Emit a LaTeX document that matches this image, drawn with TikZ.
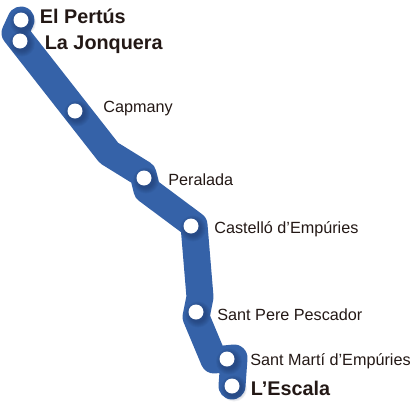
\documentclass[tikz,border=0pt]{standalone}
\usepackage{fontspec}
\setmainfont{Liberation Sans}
\usetikzlibrary{positioning,backgrounds}
\definecolor{lineblue}{HTML}{3562A8}
\definecolor{shadeblue}{HTML}{14264F}
\definecolor{inkdark}{HTML}{231815}

\begin{document}
\begin{tikzpicture}[
  x=1pt, y=-1pt,
  stn/.style={circle, fill=white, minimum size=15pt, inner sep=0pt},
  lbl/.style={inner sep=0pt, text=inkdark, font=\fontsize{16.2}{18}\selectfont},
  endlbl/.style={lbl, font=\fontsize{19.8}{22}\selectfont\bfseries},
  band/.style={draw=lineblue, line width=27pt, line join=round, line cap=round},
  halo/.style={fill=shadeblue, opacity=.07},
]
\useasboundingbox (0,0) rectangle (410,413);
% ---------------- stations ----------------
\node[stn] (pertus) at (21,20) {};
\node[stn] (jonquera) at (20,41) {};
\node[stn] (capmany) at (75,111) {};
\node[stn] (peralada) at (144,178) {};
\node[stn] (castello) at (191,226) {};
\node[stn] (santpere) at (196,312) {};
\node[stn] (santmarti) at (227,359) {};
\node[stn] (escala) at (232,386) {};

% ---------------- bends ----------------
\coordinate (b1) at (15,33);
\coordinate (b2) at (109,153);
\coordinate (b3) at (143,174);
\coordinate (b4) at (147,190);
\coordinate (b5) at (194,225);
\coordinate (b6) at (200,297);
\coordinate (b7) at (196,317);
\coordinate (b8) at (214,360);
\coordinate (b9) at (234,358);

% ---------------- line ----------------
\begin{scope}[on background layer]
\draw[band] (pertus.center) -- (b1) -- (b2) -- (b3) -- (b4) -- (b5) -- (b6) -- (b7)
  -- (b8) -- (b9) -- (escala.center);
% soft shade under each station
\foreach \st in {pertus,jonquera,capmany,peralada,castello,santpere,santmarti,escala}
  \foreach \r in {8,9,10,11,12,13}
    \fill[halo, shift={(\st.center)}] (2,2.5) circle (\r pt);
\end{scope}

% ---------------- labels ----------------
\node[endlbl, right=11pt of pertus, yshift=4pt] (pertuslbl) {El Pertús};
\node[endlbl, right=17pt of jonquera, yshift=-4pt] (jonquerlbl) {La Jonquera};
\node[lbl, right=20.5pt of capmany, yshift=2pt] (capmanylbl) {Capmany};
\node[lbl, right=16.5pt of peralada, yshift=-2pt] (peraladalbl) {Peralada};
\node[lbl, right=15.5pt of castello, yshift=-3pt] (castellolbl) {Castelló d’Empúries};
\node[lbl, right=13.5pt of santpere, yshift=-3pt] (santperelbl) {Sant Pere Pescador};
\node[lbl, right=15.5pt of santmarti, yshift=-2pt] (santmartilbl) {Sant Martí d’Empúries};
\node[endlbl, right=11pt of escala, yshift=-2pt] (escalalbl) {L’Escala};
\end{tikzpicture}
\end{document}
